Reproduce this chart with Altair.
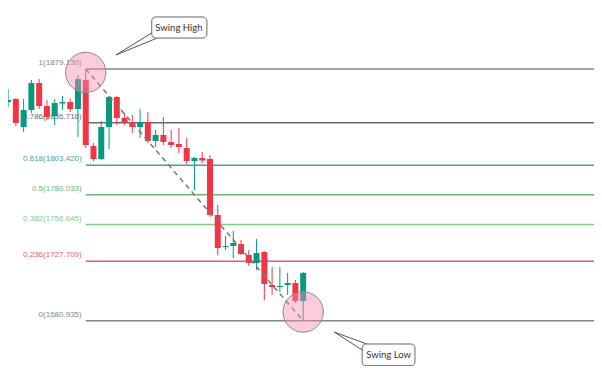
import altair as alt
import pandas as pd

# ---- candle data (index, open, high, low, close) ----
idx = list(range(39))
opens = [1853.15, 1855.51, 1833.46, 1846.85, 1868.11, 1850.00, 1842.12, 1851.96, 1853.15, 1847.63,
         1870.47, 1818.50, 1808.26, 1833.46, 1857.08, 1840.55, 1837.40, 1833.46, 1837.40, 1822.44,
         1827.16, 1821.65, 1820.07, 1816.93, 1806.69, 1809.05, 1808.26, 1764.17, 1738.97, 1739.76,
         1741.34, 1732.67, 1726.37, 1735.04, 1709.05, 1707.48, 1709.05, 1710.63, 1696.45]
closes = [1854.72, 1836.61, 1846.85, 1868.11, 1850.00, 1841.33, 1852.36, 1853.15, 1847.63, 1871.26,
          1819.29, 1808.26, 1833.46, 1857.08, 1840.55, 1837.40, 1833.46, 1837.40, 1822.44, 1827.16,
          1821.65, 1819.29, 1817.71, 1806.69, 1809.05, 1807.08, 1764.17, 1738.18, 1739.76, 1742.13,
          1733.46, 1726.37, 1734.25, 1709.84, 1707.48, 1708.26, 1710.63, 1696.45, 1718.50]
highs = [1863.38, 1856.30, 1855.51, 1870.47, 1871.26, 1854.72, 1855.51, 1857.87, 1855.51, 1874.41,
         1879.13, 1820.86, 1838.18, 1857.87, 1857.87, 1844.49, 1842.91, 1847.63, 1845.27, 1831.10,
         1841.33, 1831.10, 1832.67, 1824.80, 1809.84, 1813.78, 1811.41, 1772.04, 1747.63, 1751.57,
         1744.49, 1736.61, 1745.28, 1735.80, 1723.22, 1723.22, 1718.50, 1712.99, 1719.28]
lows = [1849.21, 1834.25, 1829.52, 1844.49, 1847.63, 1838.97, 1835.04, 1846.85, 1845.27, 1825.59,
        1816.93, 1806.69, 1807.48, 1816.14, 1835.04, 1835.04, 1828.74, 1824.80, 1820.86, 1817.71,
        1819.29, 1816.93, 1812.99, 1804.33, 1783.86, 1805.12, 1762.60, 1732.67, 1736.61, 1730.31,
        1732.67, 1724.00, 1720.85, 1697.24, 1701.18, 1703.54, 1701.18, 1694.87, 1680.935]

# ---- fibonacci levels ----
fib_ratio = ["1", "0.786", "0.618", "0.5", "0.382", "0.236", "0"]
fib_price = [1879.130, 1836.716, 1803.420, 1780.033, 1756.645, 1727.709, 1680.935]
fib_color = ["#858585", "#6a6a6a", "#45a397", "#6db56d", "#7fcb8c", "#e35d6a", "#858585"]
fib_start = 10   # swing-high candle
fib_end = 80

# ---- swings ----
swing_idx = [10, 38]
swing_price = [1879.130, 1680.935]
circle_price = [1876.4, 1687.8]

# ---- callouts (candle index / price units) ----
call_text = ["Swing High", "Swing Low"]
call_x = [18.5, 45.6]
call_x2 = [25.6, 52.4]
call_y = [1920.1, 1662.6]
call_y2 = [1903.5, 1645.5]
call_tx = [22.0, 49.0]
call_ty = [1911.8, 1653.9]
tail_name = ["hi", "hi", "hi", "lo", "lo", "lo"]
tail_x = [18.5, 13.9, 19.2, 45.6, 42.0, 46.2]
tail_y = [1907.5, 1890.2, 1903.5, 1657.9, 1672.0, 1662.6]

W, H = 586, 358
xs = alt.Scale(domain=[0.633, 74.81], nice=False, zero=False)
ys = alt.Scale(domain=[1645.27, 1927.16], nice=False, zero=False)

candles = pd.DataFrame({"i": idx, "open": opens, "close": closes, "high": highs, "low": lows})
candles["up"] = candles["close"] >= candles["open"]
fib = pd.DataFrame({"ratio": fib_ratio, "price": fib_price, "color": fib_color,
                    "x": fib_start, "x2": fib_end})
fib["label"] = [f"{r}({p:.3f})" for r, p in zip(fib_ratio, fib_price)]
swing = pd.DataFrame({"i": swing_idx, "price": swing_price, "cp": circle_price, "ord": [0, 1]})
calls = pd.DataFrame({"text": call_text, "x": call_x, "x2": call_x2, "y": call_y, "y2": call_y2,
                      "tx": call_tx, "ty": call_ty})
tails = pd.DataFrame({"name": tail_name, "x": tail_x, "y": tail_y, "o": list(range(6))})

X = lambda f: alt.X(f, type="quantitative", scale=xs, axis=None)
Y = lambda f: alt.Y(f, type="quantitative", scale=ys, axis=None)
col = alt.Color("up:N", scale=alt.Scale(domain=[True, False], range=["#089981", "#f23645"]), legend=None)

lines = alt.Chart(fib).mark_rule(strokeWidth=1.5).encode(
    x=X("x"), x2="x2", y=Y("price"), color=alt.Color("color:N", scale=None))
labels = alt.Chart(fib).mark_text(align="right", baseline="middle", dx=-4, dy=-6,
                                  font="Liberation Sans", fontSize=8).encode(
    x=X("x"), y=Y("price"), text="label", color=alt.Color("color:N", scale=None))
wicks = alt.Chart(candles).mark_rule(strokeWidth=1).encode(x=X("i"), y=Y("low"), y2="high", color=col)
bodies = alt.Chart(candles).mark_bar(size=6).encode(x=X("i"), y=Y("open"), y2="close", color=col)
dash = alt.Chart(swing).mark_line(strokeDash=[5, 4], strokeWidth=1.5, color="#777777").encode(
    x=X("i"), y=Y("price"), order="ord")
circles = alt.Chart(swing).mark_point(shape="circle", size=1626, filled=True, fill="#f48fb1",
                                      fillOpacity=0.45, stroke="#8a8a8a", strokeWidth=1,
                                      strokeOpacity=1, opacity=1).encode(x=X("i"), y=Y("cp"))
tail = alt.Chart(tails).mark_line(strokeWidth=1, color="#555555").encode(
    x=X("x"), y=Y("y"), detail="name", order="o")
boxes = alt.Chart(calls).mark_rect(fill="white", stroke="#666666", strokeWidth=1, cornerRadius=4).encode(
    x=X("x"), x2="x2", y=Y("y"), y2="y2")
btext = alt.Chart(calls).mark_text(font="Lato", fontSize=9.5, color="#333333").encode(
    x=X("tx"), y=Y("ty"), text="text")

chart = alt.layer(lines, labels, wicks, bodies, dash, circles, tail, boxes, btext).properties(
    width=W, height=H, padding=0, autosize=alt.AutoSizeParams(type="none"),
    background="white").configure_view(stroke=None)

chart.save("out.html", embed_options={"renderer": "svg", "actions": False})
